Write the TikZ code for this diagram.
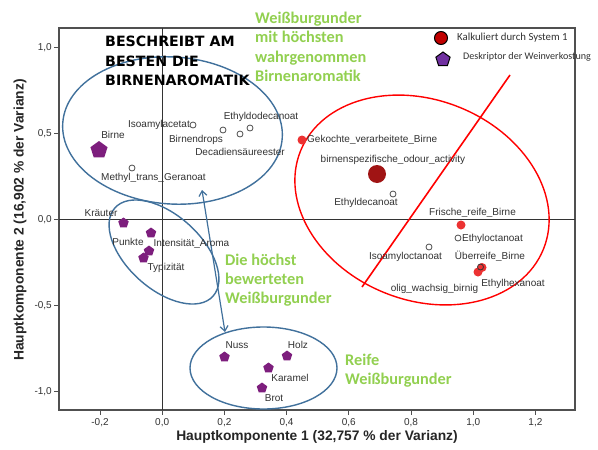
\documentclass[tikz,border=0pt]{standalone}
\usepackage{fontspec}
\setmainfont{Liberation Sans}
\newfontfamily\calib{Carlito}
\newfontfamily\headfont{DejaVu Sans}
\usetikzlibrary{shapes.geometric,arrows.meta}
\definecolor{ellblue}{RGB}{65,113,156}
\definecolor{grn}{RGB}{146,208,80}
\definecolor{purp}{RGB}{125,30,125}
\definecolor{ptred}{RGB}{236,50,50}
\definecolor{dkred}{RGB}{160,20,20}
\definecolor{lgred}{RGB}{192,0,0}
\definecolor{lgpurp}{RGB}{112,48,160}
\definecolor{txt}{RGB}{50,50,50}
\definecolor{frm}{RGB}{80,80,80}
\begin{document}
\begin{tikzpicture}[x=1pt,y=-1pt,
  lbl/.style={inner sep=0pt, text=txt, font=\fontsize{10}{12}\selectfont},
  ticklbl/.style={inner sep=0pt, text=txt, font=\fontsize{10}{12}\selectfont},
  axt/.style={inner sep=0pt, text=black!85, font=\bfseries\fontsize{13.8}{16}\selectfont},
  head/.style={inner sep=0pt, anchor=base west, text=black, font=\headfont\bfseries\fontsize{14.2}{17}\selectfont},
  grtxt/.style={inner sep=0pt, anchor=base west, text=grn, font=\calib\bfseries\fontsize{16.3}{19}\selectfont},
  lgtxt/.style={inner sep=0pt, anchor=west, text=txt, font=\calib\fontsize{10.8}{13}\selectfont},
  oc/.style={circle, draw=black!70, fill=white, line width=0.8pt, minimum size=6pt, inner sep=0pt},
  rc/.style={circle, fill=ptred, minimum size=9pt, inner sep=0pt},
  pent/.style={regular polygon, regular polygon sides=5, fill=purp, minimum size=11pt, inner sep=0pt},
  blueell/.style={draw=ellblue, line width=1.4pt},
  redell/.style={draw=red, line width=1.4pt},
  tickmark/.style={draw=frm, line width=0.8pt}
]
\useasboundingbox (0,0) rectangle (598,450);
\fill[white] (0,0) rectangle (598,450);

% frame and zero lines
\draw[frm, line width=1.2pt] (59,28) rectangle (575,410);
\draw[black!80, line width=1pt] (59,219.5) -- (575,219.5);
\draw[black!80, line width=1pt] (162.2,28) -- (162.2,410);

% y ticks
\foreach \yy/\l [count=\i] in {47.5/{1,0},133.5/{0,5},219.5/{0,0},305.5/{-0,5},391.5/{-1,0}} {
  \draw[tickmark] (54,\yy) -- (59,\yy);
  \node[ticklbl, anchor=east] (ytl\i) at (52,\yy) {\l};
}
% x ticks
\foreach \xx/\l [count=\i] in {100/{-0,2},162.2/{0,0},224.4/{0,2},286.6/{0,4},348.8/{0,6},411/{0,8},473.2/{1,0},535.4/{1,2}} {
  \draw[tickmark] (\xx,410) -- (\xx,415);
  \node[ticklbl] (xtl\i) at (\xx,423) {\l};
}

% axis titles
\node[axt] (xtitle) at (317,437) {Hauptkomponente 1 (32,757 \% der Varianz)};
\node[axt, rotate=90] (ytitle) at (20,220) {Hauptkomponente 2 (16,902 \% der Varianz)};

% ellipses
\draw[blueell, rotate around={-4:(172.5,130.5)}] (172.5,130.5) ellipse [x radius=110, y radius=73.5];
\draw[blueell, rotate around={-42:(164,252)}] (164,252) ellipse [x radius=66, y radius=37];
\draw[blueell] (263.5,368) ellipse [x radius=73.5, y radius=41];
\draw[redell, rotate around={-22:(422,200)}] (422,200) ellipse [x radius=131, y radius=100];

% red line
\coordinate (rlA) at (510,75);
\coordinate (rlB) at (362,287);
\draw[red, line width=1.6pt] (rlA) -- (rlB);

% blue double arrow
\coordinate (arA) at (202,190);
\coordinate (arB) at (225,332);
\draw[ellblue, line width=1.2pt, {Straight Barb[length=5pt,width=8pt]}-{Straight Barb[length=5pt,width=8pt]}] (arA) -- (arB);

% headings
\node[head] (h1) at (105,46.8) {BESCHREIBT AM};
\node[head] (h2) at (105,66.3) {BESTEN DIE};
\node[head] (h3) at (105,85.8) {BIRNENAROMATIK};

\node[grtxt] (g1) at (255,23) {Weißburgunder};
\node[grtxt] (g2) at (255,42.7) {mit höchsten};
\node[grtxt] (g3) at (255,62) {wahrgenommen};
\node[grtxt] (g4) at (255,81.7) {Birnenaromatik};

\node[grtxt] (d1) at (225,265) {Die höchst};
\node[grtxt] (d2) at (225,284.3) {bewerteten};
\node[grtxt] (d3) at (225,303.5) {Weißburgunder};

\node[grtxt] (r1) at (345,365) {Reife};
\node[grtxt] (r2) at (345,384.3) {Weißburgunder};

% legend
\node[circle, fill=lgred, draw=black, line width=1pt, minimum width=13pt, minimum height=12pt, inner sep=0pt] (lgc) at (441,38) {};
\node[lgtxt] (lgct) at (457,38) {Kalkuliert durch System 1};
\node[regular polygon, regular polygon sides=5, fill=lgpurp, draw=black, line width=1pt, minimum size=15pt, inner sep=0pt] (lgp) at (443,59.5) {};
\node[lgtxt, font=\calib\fontsize{10.1}{12}\selectfont] (lgpt) at (463,57) {Deskriptor der Weinverkostung};

% top-left cluster
\node[pent, minimum size=18pt] (birne) at (99,150) {};
\node[lbl] (birnel) at (113,135) {Birne};
\node[oc] (isoac) at (193,125) {};
\node[lbl, anchor=east] (isoacl) at (190,125) {Isoamylacetat};
\node[oc] (bdrops) at (223,130) {};
\node[lbl] (bdropsl) at (196,139.5) {Birnendrops};
\node[oc] (edodec) at (250,128) {};
\node[lbl] (edodecl) at (261,117) {Ethyldodecanoat};
\node[oc] (decad) at (240,134) {};
\node[lbl] (decadl) at (240,152) {Decadiensäureester};
\node[oc] (methyl) at (132,168) {};
\node[lbl] (methyll) at (153.5,178) {Methyl\_trans\_Geranoat};

% purple cluster
\node[pent] (kraeut) at (123.5,223) {};
\node[lbl] (kraeutl) at (101,213) {Kräuter};
\node[pent] (intens) at (151,233) {};
\node[lbl] (intensl) at (191.5,243.5) {Intensität\_Aroma};
\node[pent] (punkte) at (149,251) {};
\node[lbl] (punktel) at (128,242) {Punkte};
\node[pent] (typiz) at (143.5,258) {};
\node[lbl] (typizl) at (166,268) {Typizität};

% bottom cluster
\node[pent] (nuss) at (224.5,357) {};
\node[lbl] (nussl) at (237,345) {Nuss};
\node[pent] (holz) at (287,356) {};
\node[lbl] (holzl) at (298,345) {Holz};
\node[pent] (karam) at (268.5,368) {};
\node[lbl] (karaml) at (290,378) {Karamel};
\node[pent] (brot) at (262,388) {};
\node[lbl] (brotl) at (274,398) {Brot};

% red cluster
\node[rc] (gekocht) at (302,140) {};
\node[lbl, anchor=west] (gekochtl) at (307,140) {Gekochte\_verarbeitete\_Birne};
\node[circle, fill=dkred, minimum size=18pt, inner sep=0pt] (bso) at (377,174) {};
\node[lbl] (bsol) at (393,159.5) {birnenspezifische\_odour\_activity};
\node[oc] (edec) at (393,194) {};
\node[lbl] (edecl) at (366,203) {Ethyldecanoat};
\node[rc] (frische) at (461,225) {};
\node[lbl] (frischel) at (472.5,213) {Frische\_reife\_Birne};
\node[oc] (eoct) at (458,238) {};
\node[lbl, anchor=west] (eoctl) at (462,238.5) {Ethyloctanoat};
\node[oc] (isooct) at (429,247) {};
\node[lbl] (isooctl) at (405.5,256.5) {Isoamyloctanoat};
\node[rc] (olig) at (478,272) {};
\node[rc] (ueber) at (482,267.5) {};
\node[oc, fill=none, draw=black!80] (ehex) at (480.5,267) {};
\node[lbl] (ueberl) at (490,256.5) {Überreife\_Birne};
\node[lbl] (oligl) at (434.5,288.5) {olig\_wachsig\_birnig};
\node[lbl] (ehexl) at (513,283.5) {Ethylhexanoat};
\end{tikzpicture}
\end{document}
